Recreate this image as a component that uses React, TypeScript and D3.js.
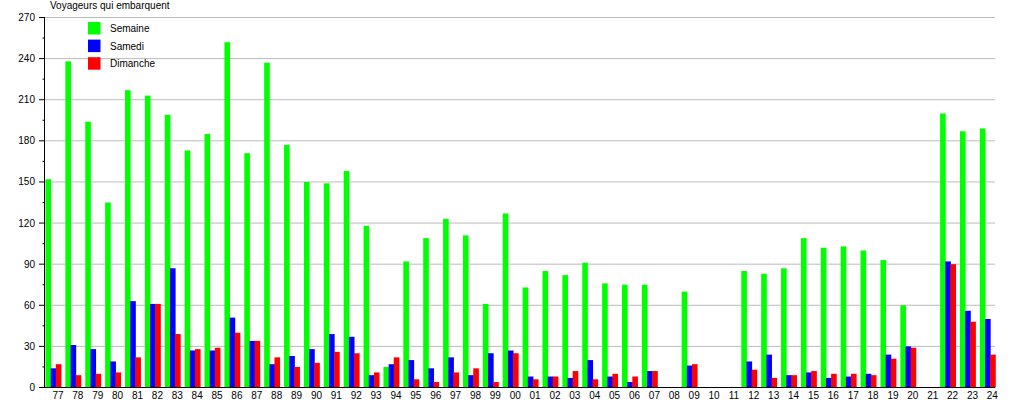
import React, { useRef, useEffect } from "react";
import * as d3 from "d3";

const years = [
  "77", "78", "79", "80", "81", "82", "83", "84", "85", "86", "87", "88",
  "89", "90", "91", "92", "93", "94", "95", "96", "97", "98", "99", "00",
  "01", "02", "03", "04", "05", "06", "07", "08", "09", "10", "11", "12",
  "13", "14", "15", "16", "17", "18", "19", "20", "21", "22", "23", "24",
];

// null = no data that year
const semaine = [
  152, 238, 194, 135, 217, 213, 199, 173, 185, 252, 171, 237,
  177, 150, 149, 158, 118, 15, 92, 109, 123, 111, 61, 127,
  73, 85, 82, 91, 76, 75, 75, null, 70, null, null, 85,
  83, 87, 109, 102, 103, 100, 93, 60, null, 200, 187, 189,
];

const samedi = [
  14, 31, 28, 19, 63, 61, 87, 27, 27, 51, 34, 17,
  23, 28, 39, 37, 9, 17, 20, 14, 22, 9, 25, 27,
  8, 8, 7, 20, 8, 4, 12, null, 16, null, null, 19,
  24, 9, 11, 7, 8, 10, 24, 30, null, 92, 56, 50,
];

const dimanche = [
  17, 9, 10, 11, 22, 61, 39, 28, 29, 40, 34, 22,
  15, 18, 26, 25, 11, 22, 6, 4, 11, 14, 4, 25,
  6, 8, 12, 6, 10, 8, 12, null, 17, null, null, 13,
  7, 9, 12, 10, 10, 9, 21, 29, null, 90, 48, 24,
];

const yTicks = [0, 30, 60, 90, 120, 150, 180, 210, 240, 270];

const series = [
  { name: "Semaine", values: semaine, color: "#00ff00", offset: 0 },
  { name: "Samedi", values: samedi, color: "#0000ff", offset: 5.2 },
  { name: "Dimanche", values: dimanche, color: "#ff0000", offset: 10.3 },
];

const W = 1015;
const H = 400;

const App = () => {
  const svgRef = useRef(null);

  useEffect(() => {
    const svg = d3.select(svgRef.current);
    svg.selectAll("*").remove();

    const left = 45;
    const right = 995;
    const font = "'Liberation Sans', Arial, sans-serif";

    const x = d3
      .scaleBand()
      .domain(years)
      .range([45.5, 45.5 + 48 * 19.88])
      .padding(0);

    const y = d3.scaleLinear().domain([0, 270]).range([387.5, 17.5]);

    // grid
    svg
      .append("g")
      .selectAll("line")
      .data(yTicks.filter((d) => d > 0))
      .enter()
      .append("line")
      .attr("x1", left)
      .attr("x2", right)
      .attr("y1", (d) => y(d))
      .attr("y2", (d) => y(d))
      .attr("stroke", "#bbbbbb")
      .attr("stroke-width", 1);

    // bars
    series.forEach((s) => {
      svg
        .append("g")
        .selectAll("rect")
        .data(years.map((yr, i) => ({ yr, v: s.values[i] })).filter((d) => d.v != null))
        .enter()
        .append("rect")
        .attr("x", (d) => x(d.yr) + s.offset)
        .attr("width", 5.6)
        .attr("y", (d) => y(d.v))
        .attr("height", (d) => y(0) - y(d.v))
        .attr("fill", s.color);
    });

    // y axis
    svg
      .append("line")
      .attr("x1", left - 0.5)
      .attr("x2", left - 0.5)
      .attr("y1", y(270))
      .attr("y2", y(0))
      .attr("stroke", "#000");

    svg
      .append("g")
      .selectAll("line")
      .data(d3.range(0, 271, 15))
      .enter()
      .append("line")
      .attr("x1", (d) => (d % 30 === 0 ? left - 6 : left - 2.5))
      .attr("x2", left)
      .attr("y1", (d) => y(d))
      .attr("y2", (d) => y(d))
      .attr("stroke", "#000");

    svg
      .append("g")
      .selectAll("text")
      .data(yTicks)
      .enter()
      .append("text")
      .attr("x", 35)
      .attr("y", (d) => y(d) + 3.5)
      .attr("text-anchor", "end")
      .attr("font-family", font)
      .attr("font-size", 10)
      .text((d) => d);

    // x axis
    svg
      .append("line")
      .attr("x1", left - 0.5)
      .attr("x2", right)
      .attr("y1", y(0))
      .attr("y2", y(0))
      .attr("stroke", "#000");

    svg
      .append("g")
      .selectAll("text")
      .data(years)
      .enter()
      .append("text")
      .attr("x", (d) => x(d) + 12.5)
      .attr("y", 398.5)
      .attr("text-anchor", "middle")
      .attr("font-family", font)
      .attr("font-size", 10)
      .text((d) => d);

    // title
    svg
      .append("text")
      .attr("x", 50)
      .attr("y", 9)
      .attr("font-family", font)
      .attr("font-size", 10)
      .text("Voyageurs qui embarquent");

    // legend
    const legend = svg.append("g");
    series.forEach((s, i) => {
      legend
        .append("rect")
        .attr("x", 88)
        .attr("y", 22 + i * 17.6)
        .attr("width", 12.5)
        .attr("height", 12.5)
        .attr("fill", s.color);
      legend
        .append("text")
        .attr("x", 110)
        .attr("y", 22 + i * 17.6 + 10)
        .attr("font-family", font)
        .attr("font-size", 10)
        .text(s.name);
    });
  }, []);

  return (
    <svg
      ref={svgRef}
      width={W}
      height={H}
      style={{ position: "absolute", left: 0, top: 0, display: "block", background: "#fff" }}
    ></svg>
  );
};

export default App;
